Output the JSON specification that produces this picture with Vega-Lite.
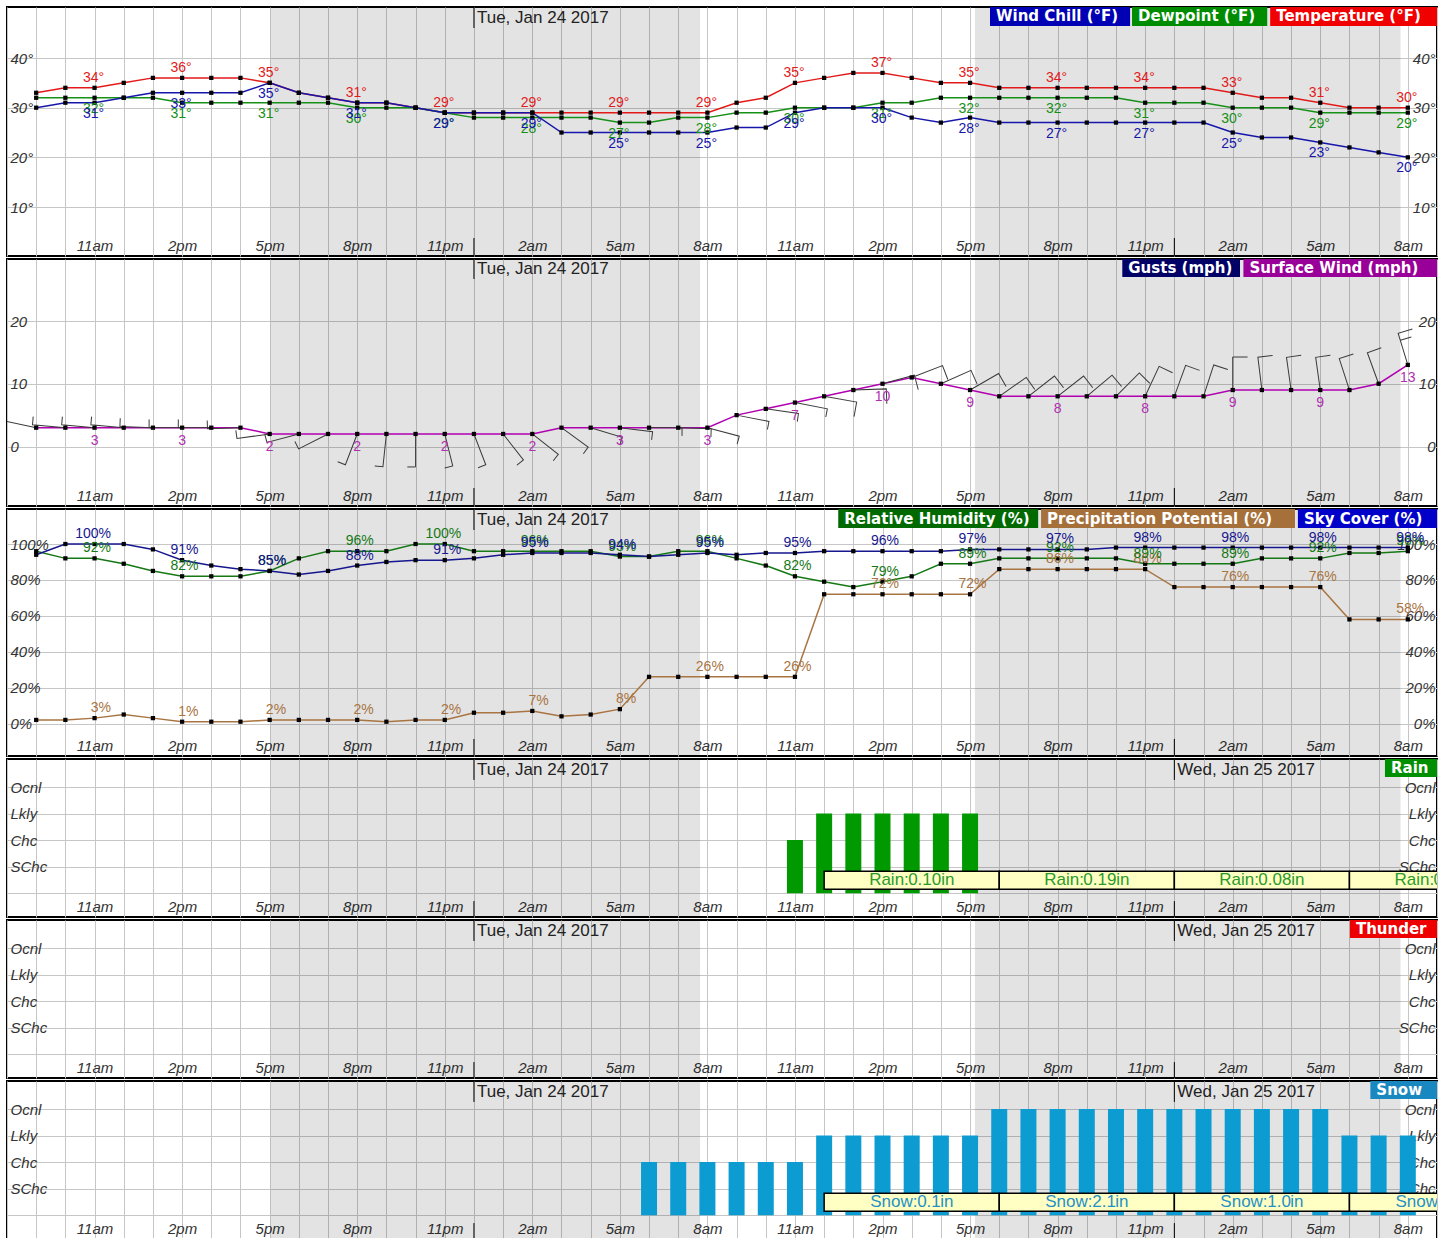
{
  "$schema": "https://vega.github.io/schema/vega-lite/v6.json",
  "background": "white",
  "padding": {"left": 6, "top": 5, "right": 3, "bottom": 0},
  "spacing": -1,
  "resolve": {"scale": {"color": "independent", "fill": "independent", "shape": "independent"}},
  "config": {
    "view": {"stroke": "#000000", "strokeWidth": 2},
    "axis": {"domain": false, "ticks": false, "gridColor": "#c6c6c6", "labelFont": "Liberation Sans", "labelFontStyle": "italic", "labelFontSize": 15, "labelColor": "#333333", "labelOverlap": false, "labelFlush": false},
    "text": {"font": "Liberation Sans"}
  },
  "data": {"values": [
    {"t":"2017-01-23T09:00","temp":33,"dew":32,"chill":30,"wind":3,"dir":282,"barb":"half","rh":96,"pop":2,"sky":94,"rain":0,"snow":0},
    {"t":"2017-01-23T10:00","temp":34,"dew":32,"chill":31,"wind":3,"dir":275,"barb":"half","rh":92,"pop":2,"sky":100,"rain":0,"snow":0},
    {"t":"2017-01-23T11:00","temp":34,"dew":32,"chill":31,"wind":3,"dir":275,"barb":"half","rh":92,"pop":3,"sky":100,"rain":0,"snow":0},
    {"t":"2017-01-23T12:00","temp":35,"dew":32,"chill":32,"wind":3,"dir":275,"barb":"half","rh":89,"pop":5,"sky":100,"rain":0,"snow":0},
    {"t":"2017-01-23T13:00","temp":36,"dew":32,"chill":33,"wind":3,"dir":272,"barb":"half","rh":85,"pop":3,"sky":97,"rain":0,"snow":0},
    {"t":"2017-01-23T14:00","temp":36,"dew":31,"chill":33,"wind":3,"dir":270,"barb":"half","rh":82,"pop":1,"sky":91,"rain":0,"snow":0},
    {"t":"2017-01-23T15:00","temp":36,"dew":31,"chill":33,"wind":3,"dir":270,"barb":"half","rh":82,"pop":1,"sky":88,"rain":0,"snow":0},
    {"t":"2017-01-23T16:00","temp":36,"dew":31,"chill":33,"wind":3,"dir":268,"barb":"half","rh":82,"pop":1,"sky":86,"rain":0,"snow":0},
    {"t":"2017-01-23T17:00","temp":35,"dew":31,"chill":35,"wind":2,"dir":262,"barb":"half","rh":85,"pop":2,"sky":85,"rain":0,"snow":0},
    {"t":"2017-01-23T18:00","temp":33,"dew":31,"chill":33,"wind":2,"dir":255,"barb":"half","rh":92,"pop":2,"sky":83,"rain":0,"snow":0},
    {"t":"2017-01-23T19:00","temp":32,"dew":31,"chill":32,"wind":2,"dir":243,"barb":"half","rh":96,"pop":2,"sky":85,"rain":0,"snow":0},
    {"t":"2017-01-23T20:00","temp":31,"dew":30,"chill":31,"wind":2,"dir":201,"barb":"half","rh":96,"pop":2,"sky":88,"rain":0,"snow":0},
    {"t":"2017-01-23T21:00","temp":31,"dew":30,"chill":31,"wind":2,"dir":186,"barb":"half","rh":96,"pop":1,"sky":90,"rain":0,"snow":0},
    {"t":"2017-01-23T22:00","temp":30,"dew":30,"chill":30,"wind":2,"dir":180,"barb":"half","rh":100,"pop":2,"sky":91,"rain":0,"snow":0},
    {"t":"2017-01-23T23:00","temp":29,"dew":29,"chill":29,"wind":2,"dir":166,"barb":"half","rh":100,"pop":2,"sky":91,"rain":0,"snow":0},
    {"t":"2017-01-24T00:00","temp":29,"dew":28,"chill":29,"wind":2,"dir":159,"barb":"half","rh":96,"pop":6,"sky":92,"rain":0,"snow":0},
    {"t":"2017-01-24T01:00","temp":29,"dew":28,"chill":29,"wind":2,"dir":142,"barb":"half","rh":96,"pop":6,"sky":94,"rain":0,"snow":0},
    {"t":"2017-01-24T02:00","temp":29,"dew":28,"chill":29,"wind":2,"dir":128,"barb":"half","rh":96,"pop":7,"sky":95,"rain":0,"snow":0},
    {"t":"2017-01-24T03:00","temp":29,"dew":28,"chill":25,"wind":3,"dir":126,"barb":"half","rh":96,"pop":4,"sky":95,"rain":0,"snow":0},
    {"t":"2017-01-24T04:00","temp":29,"dew":28,"chill":25,"wind":3,"dir":107,"barb":"half","rh":96,"pop":5,"sky":95,"rain":0,"snow":0},
    {"t":"2017-01-24T05:00","temp":29,"dew":27,"chill":25,"wind":3,"dir":97,"barb":"half","rh":93,"pop":8,"sky":94,"rain":0,"snow":0},
    {"t":"2017-01-24T06:00","temp":29,"dew":27,"chill":25,"wind":3,"dir":90,"barb":"half","rh":93,"pop":26,"sky":93,"rain":0,"snow":2},
    {"t":"2017-01-24T07:00","temp":29,"dew":28,"chill":25,"wind":3,"dir":92,"barb":"half","rh":96,"pop":26,"sky":94,"rain":0,"snow":2},
    {"t":"2017-01-24T08:00","temp":29,"dew":28,"chill":25,"wind":3,"dir":105,"barb":"half","rh":96,"pop":26,"sky":95,"rain":0,"snow":2},
    {"t":"2017-01-24T09:00","temp":31,"dew":29,"chill":26,"wind":5,"dir":101,"barb":"half","rh":92,"pop":26,"sky":94,"rain":0,"snow":2},
    {"t":"2017-01-24T10:00","temp":32,"dew":29,"chill":26,"wind":6,"dir":98,"barb":"half","rh":88,"pop":26,"sky":95,"rain":0,"snow":2},
    {"t":"2017-01-24T11:00","temp":35,"dew":30,"chill":29,"wind":7,"dir":101,"barb":"half","rh":82,"pop":26,"sky":95,"rain":2,"snow":2},
    {"t":"2017-01-24T12:00","temp":36,"dew":30,"chill":30,"wind":8,"dir":100,"barb":"full","rh":79,"pop":72,"sky":96,"rain":3,"snow":3},
    {"t":"2017-01-24T13:00","temp":37,"dew":30,"chill":30,"wind":9,"dir":88,"barb":"full","rh":76,"pop":72,"sky":96,"rain":3,"snow":3},
    {"t":"2017-01-24T14:00","temp":37,"dew":31,"chill":30,"wind":10,"dir":75,"barb":"full","rh":79,"pop":72,"sky":96,"rain":3,"snow":3},
    {"t":"2017-01-24T15:00","temp":36,"dew":31,"chill":28,"wind":11,"dir":69,"barb":"full","rh":82,"pop":72,"sky":96,"rain":3,"snow":3},
    {"t":"2017-01-24T16:00","temp":35,"dew":32,"chill":27,"wind":10,"dir":66,"barb":"full","rh":89,"pop":72,"sky":96,"rain":3,"snow":3},
    {"t":"2017-01-24T17:00","temp":35,"dew":32,"chill":28,"wind":9,"dir":60,"barb":"full","rh":89,"pop":72,"sky":97,"rain":3,"snow":3},
    {"t":"2017-01-24T18:00","temp":34,"dew":32,"chill":27,"wind":8,"dir":55,"barb":"full","rh":92,"pop":86,"sky":97,"rain":0,"snow":4},
    {"t":"2017-01-24T19:00","temp":34,"dew":32,"chill":27,"wind":8,"dir":52,"barb":"full","rh":92,"pop":86,"sky":97,"rain":0,"snow":4},
    {"t":"2017-01-24T20:00","temp":34,"dew":32,"chill":27,"wind":8,"dir":52,"barb":"full","rh":92,"pop":86,"sky":97,"rain":0,"snow":4},
    {"t":"2017-01-24T21:00","temp":34,"dew":32,"chill":27,"wind":8,"dir":50,"barb":"full","rh":92,"pop":86,"sky":97,"rain":0,"snow":4},
    {"t":"2017-01-24T22:00","temp":34,"dew":32,"chill":27,"wind":8,"dir":45,"barb":"full","rh":92,"pop":86,"sky":98,"rain":0,"snow":4},
    {"t":"2017-01-24T23:00","temp":34,"dew":31,"chill":27,"wind":8,"dir":25,"barb":"full","rh":89,"pop":86,"sky":98,"rain":0,"snow":4},
    {"t":"2017-01-25T00:00","temp":34,"dew":31,"chill":27,"wind":8,"dir":20,"barb":"full","rh":89,"pop":76,"sky":98,"rain":0,"snow":4},
    {"t":"2017-01-25T01:00","temp":34,"dew":31,"chill":27,"wind":8,"dir":18,"barb":"full","rh":89,"pop":76,"sky":98,"rain":0,"snow":4},
    {"t":"2017-01-25T02:00","temp":33,"dew":30,"chill":25,"wind":9,"dir":0,"barb":"full","rh":89,"pop":76,"sky":98,"rain":0,"snow":4},
    {"t":"2017-01-25T03:00","temp":32,"dew":30,"chill":24,"wind":9,"dir":353,"barb":"full","rh":92,"pop":76,"sky":98,"rain":0,"snow":4},
    {"t":"2017-01-25T04:00","temp":32,"dew":30,"chill":24,"wind":9,"dir":352,"barb":"full","rh":92,"pop":76,"sky":98,"rain":0,"snow":4},
    {"t":"2017-01-25T05:00","temp":31,"dew":29,"chill":23,"wind":9,"dir":352,"barb":"full","rh":92,"pop":76,"sky":98,"rain":0,"snow":4},
    {"t":"2017-01-25T06:00","temp":30,"dew":29,"chill":22,"wind":9,"dir":342,"barb":"full","rh":95,"pop":58,"sky":98,"rain":0,"snow":3},
    {"t":"2017-01-25T07:00","temp":30,"dew":29,"chill":21,"wind":10,"dir":340,"barb":"full","rh":95,"pop":58,"sky":98,"rain":0,"snow":3},
    {"t":"2017-01-25T08:00","temp":30,"dew":29,"chill":20,"wind":13,"dir":343,"barb":"fullhalf","rh":96,"pop":58,"sky":98,"rain":0,"snow":3}
  ]},
  "vconcat": [
    {
      "width": 1430, "height": 249,
      "encoding": {"x": {"field": "t", "type": "temporal", "title": null, "scale": {"domain": [{"year": 2017, "month": 1, "date": 23, "hours": 8}, {"year": 2017, "month": 1, "date": 25, "hours": 9}], "padding": 0, "nice": false}, "axis": {"tickCount": 49, "grid": true, "labelPadding": -3, "labelBaseline": "bottom", "labelExpr": "(hours(datum.value) % 3 == 2 && datum.index > 0) ? lower(timeFormat(datum.value, '%-I%p')) : ''"}}},
      "layer": [
        {"data": {"values": [{"start":"2017-01-23T17:02","end":"2017-01-24T07:45"},{"start":"2017-01-24T17:10","end":"2017-01-25T07:45"}]}, "mark": {"type": "rect", "color": "#000000", "opacity": 0.11}, "encoding": {"x": {"field": "start", "type": "temporal", "title": null}, "x2": {"field": "end"}}},
        {"transform": [{"fold": ["temp", "dew", "chill"], "as": ["s", "v"]}], "mark": {"type": "line", "strokeWidth": 1.5},
          "encoding": {"y": {"field": "v", "type": "quantitative", "title": null, "scale": {"domain": [0.14, 50.27], "nice": false, "zero": false}, "axis": {"orient": "left", "values": [10, 20, 30, 40], "grid": true, "labelAlign": "left", "labelPadding": -3, "labelExpr": "datum.value + '°'"}},
            "color": {"field": "s", "type": "nominal", "scale": {"domain": ["temp", "dew", "chill"], "range": ["#e21a1a", "#169016", "#1616aa"]}, "legend": null}}},
        {"transform": [{"fold": ["temp", "dew", "chill"], "as": ["s", "v"]}], "mark": {"type": "point", "shape": "square", "filled": true, "color": "#000000", "size": 18, "opacity": 1},
          "encoding": {"y": {"field": "v", "type": "quantitative", "title": null, "axis": {"orient": "right", "values": [10, 20, 30, 40], "grid": false, "labelAlign": "right", "labelPadding": -2, "labelExpr": "datum.value + '°'"}}}},
        {"transform": [{"filter": "hours(datum.t) % 3 == 2"}, {"fold": ["temp", "dew", "chill"], "as": ["s", "v"]}, {"filter": "datum.s == 'temp'"}],
          "mark": {"type": "text", "dy": -10, "dx": 4, "align": "right", "fontSize": 14, "baseline": "middle"},
          "encoding": {"y": {"field": "v", "type": "quantitative", "axis": null}, "text": {"field": "v", "type": "quantitative"}, "color": {"field": "s", "type": "nominal", "legend": null}}},
        {"transform": [{"filter": "hours(datum.t) % 3 == 2"}, {"fold": ["temp", "dew", "chill"], "as": ["s", "v"]}, {"filter": "datum.s == 'temp'"}],
          "mark": {"type": "text", "dy": -10, "dx": 4, "align": "left", "fontSize": 14, "baseline": "middle", "text": "°"},
          "encoding": {"y": {"field": "v", "type": "quantitative", "axis": null}, "color": {"field": "s", "type": "nominal", "legend": null}}},
        {"transform": [{"filter": "hours(datum.t) % 3 == 2"}, {"fold": ["temp", "dew", "chill"], "as": ["s", "v"]}, {"filter": "datum.s != 'temp'"}],
          "mark": {"type": "text", "dy": 11, "dx": 4, "align": "right", "fontSize": 14, "baseline": "middle"},
          "encoding": {"y": {"field": "v", "type": "quantitative", "axis": null}, "text": {"field": "v", "type": "quantitative"}, "color": {"field": "s", "type": "nominal", "legend": null}}},
        {"transform": [{"filter": "hours(datum.t) % 3 == 2"}, {"fold": ["temp", "dew", "chill"], "as": ["s", "v"]}, {"filter": "datum.s != 'temp'"}],
          "mark": {"type": "text", "dy": 11, "dx": 4, "align": "left", "fontSize": 14, "baseline": "middle", "text": "°"},
          "encoding": {"y": {"field": "v", "type": "quantitative", "axis": null}, "color": {"field": "s", "type": "nominal", "legend": null}}},
        {"data": {"values": [{"label":"Wind Chill (°F)","start":"2017-01-24T17:41","end":"2017-01-24T22:29"},{"label":"Dewpoint (°F)","start":"2017-01-24T22:33","end":"2017-01-25T03:11"},{"label":"Temperature (°F)","start":"2017-01-25T03:17","end":"2017-01-25T09:00"}]},
          "layer": [
            {"mark": {"type": "rect"}, "encoding": {"x": {"field": "start", "type": "temporal", "title": null}, "x2": {"field": "end"}, "y": {"datum": 46.45, "axis": null}, "y2": {"datum": 50.27},
              "fill": {"field": "label", "type": "nominal", "scale": {"domain": ["Wind Chill (°F)", "Dewpoint (°F)", "Temperature (°F)"], "range": ["#0000b4", "#008c00", "#f00000"]}, "legend": null}}},
            {"mark": {"type": "text", "align": "left", "baseline": "middle", "dx": 6, "font": "DejaVu Sans", "fontWeight": "bold", "fontSize": 15, "color": "#ffffff"},
              "encoding": {"x": {"field": "start", "type": "temporal", "title": null}, "y": {"datum": 48.36, "axis": null}, "text": {"field": "label"}}}
          ]},
        {"data": {"values": [{"t":"2017-01-24T00:00"},{"t":"2017-01-25T00:00"}]},
          "layer": [
            {"transform": [{"filter": "date(datum.t) == 24"}], "mark": {"type": "text", "align": "left", "baseline": "middle", "dx": 3, "fontSize": 17, "color": "#222222"},
              "encoding": {"y": {"datum": 48.06, "axis": null}, "text": {"field": "t", "type": "temporal", "format": "%a, %b %d %Y"}}},
            {"transform": [{"filter": "date(datum.t) == 24"}], "mark": {"type": "rule", "color": "#000000", "strokeWidth": 1},
              "encoding": {"y": {"datum": 50.27, "axis": null}, "y2": {"datum": 46.04}}},
            {"mark": {"type": "rule", "color": "#000000", "strokeWidth": 1},
              "encoding": {"y": {"datum": 3.76, "axis": null}, "y2": {"datum": 0.14}}}
          ]}
      ],
      "resolve": {"axis": {"y": "independent"}}
    },
    {
      "width": 1430, "height": 247,
      "encoding": {"x": {"field": "t", "type": "temporal", "title": null, "scale": {"domain": [{"year": 2017, "month": 1, "date": 23, "hours": 8}, {"year": 2017, "month": 1, "date": 25, "hours": 9}], "padding": 0, "nice": false}, "axis": {"tickCount": 49, "grid": true, "labelPadding": -3, "labelBaseline": "bottom", "labelExpr": "(hours(datum.value) % 3 == 2 && datum.index > 0) ? lower(timeFormat(datum.value, '%-I%p')) : ''"}}},
      "layer": [
        {"data": {"values": [{"start":"2017-01-23T17:02","end":"2017-01-24T07:45"},{"start":"2017-01-24T17:10","end":"2017-01-25T07:45"}]}, "mark": {"type": "rect", "color": "#000000", "opacity": 0.11}, "encoding": {"x": {"field": "start", "type": "temporal", "title": null}, "x2": {"field": "end"}}},
        {"mark": {"type": "line", "strokeWidth": 1.5, "color": "#b000b0"},
          "encoding": {"y": {"field": "wind", "type": "quantitative", "title": null, "scale": {"domain": [-9.48, 29.88], "nice": false, "zero": false}, "axis": {"orient": "left", "values": [0, 10, 20], "grid": true, "labelAlign": "left", "labelPadding": -3}}}},
        {"mark": {"type": "point", "filled": false, "color": "#3a3a3a", "strokeWidth": 1, "size": 4356, "opacity": 1, "clip": true},
          "encoding": {"y": {"field": "wind", "type": "quantitative", "axis": null},
            "shape": {"field": "barb", "type": "nominal", "scale": {"domain": ["half", "full", "fullhalf"], "range": ["M0,0L0,-1L0.25,-1", "M0,0L0,-1L0.45,-1", "M0,0L0,-1L0.45,-1M0,-0.78L0.35,-0.78"]}, "legend": null},
            "angle": {"field": "dir", "type": "quantitative", "scale": null}}},
        {"mark": {"type": "point", "shape": "square", "filled": true, "color": "#000000", "size": 18, "opacity": 1},
          "encoding": {"y": {"field": "wind", "type": "quantitative", "title": null, "axis": {"orient": "right", "values": [0, 10, 20], "grid": false, "labelAlign": "right", "labelPadding": -2}}}},
        {"transform": [{"filter": "hours(datum.t) % 3 == 2"}],
          "mark": {"type": "text", "dy": 13, "fontSize": 14, "baseline": "middle", "color": "#b030b0"},
          "encoding": {"y": {"field": "wind", "type": "quantitative", "axis": null}, "text": {"field": "wind", "type": "quantitative"}}},
        {"data": {"values": [{"label":"Gusts (mph)","start":"2017-01-24T22:13","end":"2017-01-25T02:15"},{"label":"Surface Wind (mph)","start":"2017-01-25T02:22","end":"2017-01-25T09:00"}]},
          "layer": [
            {"mark": {"type": "rect"}, "encoding": {"x": {"field": "start", "type": "temporal", "title": null}, "x2": {"field": "end"}, "y": {"datum": 27.0, "axis": null}, "y2": {"datum": 29.88},
              "fill": {"field": "label", "type": "nominal", "scale": {"domain": ["Gusts (mph)", "Surface Wind (mph)"], "range": ["#000066", "#990099"]}, "legend": null}}},
            {"mark": {"type": "text", "align": "left", "baseline": "middle", "dx": 6, "font": "DejaVu Sans", "fontWeight": "bold", "fontSize": 15, "color": "#ffffff"},
              "encoding": {"x": {"field": "start", "type": "temporal", "title": null}, "y": {"datum": 28.45, "axis": null}, "text": {"field": "label"}}}
          ]},
        {"data": {"values": [{"t":"2017-01-24T00:00"},{"t":"2017-01-25T00:00"}]},
          "layer": [
            {"transform": [{"filter": "date(datum.t) == 24"}], "mark": {"type": "text", "align": "left", "baseline": "middle", "dx": 3, "fontSize": 17, "color": "#222222"},
              "encoding": {"y": {"datum": 28.29, "axis": null}, "text": {"field": "t", "type": "temporal", "format": "%a, %b %d %Y"}}},
            {"transform": [{"filter": "date(datum.t) == 24"}], "mark": {"type": "rule", "color": "#000000", "strokeWidth": 1},
              "encoding": {"y": {"datum": 29.88, "axis": null}, "y2": {"datum": 26.7}}},
            {"mark": {"type": "rule", "color": "#000000", "strokeWidth": 1},
              "encoding": {"y": {"datum": -6.61, "axis": null}, "y2": {"datum": -9.48}}}
          ]}
      ],
      "resolve": {"axis": {"y": "independent"}}
    },
    {
      "width": 1430, "height": 247,
      "encoding": {"x": {"field": "t", "type": "temporal", "title": null, "scale": {"domain": [{"year": 2017, "month": 1, "date": 23, "hours": 8}, {"year": 2017, "month": 1, "date": 25, "hours": 9}], "padding": 0, "nice": false}, "axis": {"tickCount": 49, "grid": true, "labelPadding": -3, "labelBaseline": "bottom", "labelExpr": "(hours(datum.value) % 3 == 2 && datum.index > 0) ? lower(timeFormat(datum.value, '%-I%p')) : ''"}}},
      "layer": [
        {"data": {"values": [{"start":"2017-01-23T17:02","end":"2017-01-24T07:45"},{"start":"2017-01-24T17:10","end":"2017-01-25T07:45"}]}, "mark": {"type": "rect", "color": "#000000", "opacity": 0.11}, "encoding": {"x": {"field": "start", "type": "temporal", "title": null}, "x2": {"field": "end"}}},
        {"transform": [{"fold": ["pop", "rh", "sky"], "as": ["s", "v"]}], "mark": {"type": "line", "strokeWidth": 1.5},
          "encoding": {"y": {"field": "v", "type": "quantitative", "title": null, "scale": {"domain": [-18.1, 119.5], "nice": false, "zero": false}, "axis": {"orient": "left", "values": [0, 20, 40, 60, 80, 100], "grid": true, "labelAlign": "left", "labelPadding": -3, "labelExpr": "datum.value + '%'"}},
            "color": {"field": "s", "type": "nominal", "scale": {"domain": ["pop", "rh", "sky"], "range": ["#a87442", "#157815", "#16168e"]}, "legend": null}}},
        {"transform": [{"fold": ["pop", "rh", "sky"], "as": ["s", "v"]}], "mark": {"type": "point", "shape": "square", "filled": true, "color": "#000000", "size": 18, "opacity": 1},
          "encoding": {"y": {"field": "v", "type": "quantitative", "title": null, "axis": {"orient": "right", "values": [0, 20, 40, 60, 80, 100], "grid": false, "labelAlign": "right", "labelPadding": -2, "labelExpr": "datum.value + '%'"}}}},
        {"transform": [{"filter": "hours(datum.t) % 3 == 2"}, {"fold": ["pop", "rh", "sky"], "as": ["s", "v"]}],
          "mark": {"type": "text", "dy": -10, "dx": 4, "align": "right", "fontSize": 14, "baseline": "middle"},
          "encoding": {"y": {"field": "v", "type": "quantitative", "axis": null}, "text": {"field": "v", "type": "quantitative"}, "color": {"field": "s", "type": "nominal", "legend": null}}},
        {"transform": [{"filter": "hours(datum.t) % 3 == 2"}, {"fold": ["pop", "rh", "sky"], "as": ["s", "v"]}],
          "mark": {"type": "text", "dy": -10, "dx": 4, "align": "left", "fontSize": 14, "baseline": "middle", "text": "%"},
          "encoding": {"y": {"field": "v", "type": "quantitative", "axis": null}, "color": {"field": "s", "type": "nominal", "legend": null}}},
        {"data": {"values": [{"label":"Relative Humidity (%)","start":"2017-01-24T12:29","end":"2017-01-24T19:20"},{"label":"Precipitation Potential (%)","start":"2017-01-24T19:26","end":"2017-01-25T04:08"},{"label":"Sky Cover (%)","start":"2017-01-25T04:14","end":"2017-01-25T09:00"}]},
          "layer": [
            {"mark": {"type": "rect"}, "encoding": {"x": {"field": "start", "type": "temporal", "title": null}, "x2": {"field": "end"}, "y": {"datum": 108.9, "axis": null}, "y2": {"datum": 119.5},
              "fill": {"field": "label", "type": "nominal", "scale": {"domain": ["Relative Humidity (%)", "Precipitation Potential (%)", "Sky Cover (%)"], "range": ["#006a00", "#a6703a", "#0000c8"]}, "legend": null}}},
            {"mark": {"type": "text", "align": "left", "baseline": "middle", "dx": 6, "font": "DejaVu Sans", "fontWeight": "bold", "fontSize": 15, "color": "#ffffff"},
              "encoding": {"x": {"field": "start", "type": "temporal", "title": null}, "y": {"datum": 114.2, "axis": null}, "text": {"field": "label"}}}
          ]},
        {"data": {"values": [{"t":"2017-01-24T00:00"},{"t":"2017-01-25T00:00"}]},
          "layer": [
            {"transform": [{"filter": "date(datum.t) == 24"}], "mark": {"type": "text", "align": "left", "baseline": "middle", "dx": 3, "fontSize": 17, "color": "#222222"},
              "encoding": {"y": {"datum": 113.4, "axis": null}, "text": {"field": "t", "type": "temporal", "format": "%a, %b %d %Y"}}},
            {"transform": [{"filter": "date(datum.t) == 24"}], "mark": {"type": "rule", "color": "#000000", "strokeWidth": 1},
              "encoding": {"y": {"datum": 119.5, "axis": null}, "y2": {"datum": 107.8}}},
            {"mark": {"type": "rule", "color": "#000000", "strokeWidth": 1},
              "encoding": {"y": {"datum": -8.6, "axis": null}, "y2": {"datum": -18.1}}}
          ]}
      ],
      "resolve": {"axis": {"y": "independent"}}
    },
    {
      "width": 1430, "height": 158,
      "encoding": {"x": {"field": "t", "type": "temporal", "title": null, "scale": {"domain": [{"year": 2017, "month": 1, "date": 23, "hours": 8}, {"year": 2017, "month": 1, "date": 25, "hours": 9}], "padding": 0, "nice": false}, "axis": {"tickCount": 49, "grid": true, "labelPadding": -3, "labelBaseline": "bottom", "labelExpr": "(hours(datum.value) % 3 == 2 && datum.index > 0) ? lower(timeFormat(datum.value, '%-I%p')) : ''"}}},
      "layer": [
        {"data": {"values": [{"start":"2017-01-23T17:02","end":"2017-01-24T07:45"},{"start":"2017-01-24T17:10","end":"2017-01-25T07:45"}]}, "mark": {"type": "rect", "color": "#000000", "opacity": 0.11}, "encoding": {"x": {"field": "start", "type": "temporal", "title": null}, "x2": {"field": "end"}}},
        {"transform": [{"filter": "datum.rain > 0"}], "mark": {"type": "bar", "color": "#009a00", "width": 16},
          "encoding": {"y": {"field": "rain", "type": "quantitative", "title": null, "scale": {"domain": [-0.9, 5.06], "nice": false, "zero": false}, "axis": {"orient": "left", "values": [0, 1, 2, 3, 4], "grid": true, "labelAlign": "left", "labelPadding": -3, "labelExpr": "datum.value == 1 ? 'SChc' : datum.value == 2 ? 'Chc' : datum.value == 3 ? 'Lkly' : datum.value == 4 ? 'Ocnl' : ''"}}, "y2": {"datum": 0}}},
        {"transform": [{"filter": "datum.rain > 0"}], "mark": {"type": "bar", "opacity": 0, "width": 16},
          "encoding": {"y": {"field": "rain", "type": "quantitative", "title": null, "axis": {"orient": "right", "values": [1, 2, 3, 4], "grid": false, "labelAlign": "right", "labelPadding": -2, "labelExpr": "datum.value == 1 ? 'SChc' : datum.value == 2 ? 'Chc' : datum.value == 3 ? 'Lkly' : 'Ocnl'"}}, "y2": {"datum": 0}}},
        {"data": {"values": [{"start":"2017-01-24T12:00","end":"2017-01-24T18:00","amt":0.10},{"start":"2017-01-24T18:00","end":"2017-01-25T00:00","amt":0.19},{"start":"2017-01-25T00:00","end":"2017-01-25T06:00","amt":0.08},{"start":"2017-01-25T06:00","end":"2017-01-25T12:00","amt":0.02}]},
          "layer": [
            {"mark": {"type": "rect", "fill": "#ffffc4", "stroke": "#000000", "strokeWidth": 1.5, "clip": true},
              "encoding": {"x": {"field": "start", "type": "temporal", "title": null}, "x2": {"field": "end"}, "y": {"datum": 0.15, "axis": null}, "y2": {"datum": 0.83}}},
            {"mark": {"type": "text", "align": "left", "baseline": "middle", "dx": 45, "fontSize": 17, "color": "#2a9a2a", "clip": true, "text": "Rain:"},
              "encoding": {"x": {"field": "start", "type": "temporal", "title": null}, "y": {"datum": 0.49, "axis": null}}},
            {"mark": {"type": "text", "align": "left", "baseline": "middle", "dx": 84, "fontSize": 17, "color": "#2a9a2a", "clip": true},
              "encoding": {"x": {"field": "start", "type": "temporal", "title": null}, "y": {"datum": 0.49, "axis": null}, "text": {"field": "amt", "type": "quantitative", "format": ".2f"}}},
            {"mark": {"type": "text", "align": "left", "baseline": "middle", "dx": 117, "fontSize": 17, "color": "#2a9a2a", "clip": true, "text": "in"},
              "encoding": {"x": {"field": "start", "type": "temporal", "title": null}, "y": {"datum": 0.49, "axis": null}}}
          ]},
        {"data": {"values": [{"label":"Rain","start":"2017-01-25T07:13","end":"2017-01-25T09:00"}]},
          "layer": [
            {"mark": {"type": "rect", "color": "#008f00"}, "encoding": {"x": {"field": "start", "type": "temporal", "title": null}, "x2": {"field": "end"}, "y": {"datum": 4.38, "axis": null}, "y2": {"datum": 5.06}}},
            {"mark": {"type": "text", "align": "left", "baseline": "middle", "dx": 6, "font": "DejaVu Sans", "fontWeight": "bold", "fontSize": 15, "color": "#ffffff"},
              "encoding": {"x": {"field": "start", "type": "temporal", "title": null}, "y": {"datum": 4.72, "axis": null}, "text": {"field": "label"}}}
          ]},
        {"data": {"values": [{"t":"2017-01-24T00:00"},{"t":"2017-01-25T00:00"}]},
          "layer": [
            {"mark": {"type": "text", "align": "left", "baseline": "middle", "dx": 3, "fontSize": 17, "color": "#222222"},
              "encoding": {"y": {"datum": 4.645, "axis": null}, "text": {"field": "t", "type": "temporal", "format": "%a, %b %d %Y"}}},
            {"mark": {"type": "rule", "color": "#000000", "strokeWidth": 1},
              "encoding": {"y": {"datum": 5.06, "axis": null}, "y2": {"datum": 4.27}}},
            {"mark": {"type": "rule", "color": "#000000", "strokeWidth": 1},
              "encoding": {"y": {"datum": -0.3, "axis": null}, "y2": {"datum": -0.9}}}
          ]}
      ],
      "resolve": {"axis": {"y": "independent"}}
    },
    {
      "width": 1430, "height": 158,
      "encoding": {"x": {"field": "t", "type": "temporal", "title": null, "scale": {"domain": [{"year": 2017, "month": 1, "date": 23, "hours": 8}, {"year": 2017, "month": 1, "date": 25, "hours": 9}], "padding": 0, "nice": false}, "axis": {"tickCount": 49, "grid": true, "labelPadding": -3, "labelBaseline": "bottom", "labelExpr": "(hours(datum.value) % 3 == 2 && datum.index > 0) ? lower(timeFormat(datum.value, '%-I%p')) : ''"}}},
      "layer": [
        {"data": {"values": [{"start":"2017-01-23T17:02","end":"2017-01-24T07:45"},{"start":"2017-01-24T17:10","end":"2017-01-25T07:45"}]}, "mark": {"type": "rect", "color": "#000000", "opacity": 0.11}, "encoding": {"x": {"field": "start", "type": "temporal", "title": null}, "x2": {"field": "end"}}},
        {"transform": [{"filter": "datum.rain < 0"}], "mark": {"type": "bar", "color": "#dd0000", "width": 16},
          "encoding": {"y": {"field": "rain", "type": "quantitative", "title": null, "scale": {"domain": [-0.9, 5.06], "nice": false, "zero": false}, "axis": {"orient": "left", "values": [0, 1, 2, 3, 4], "grid": true, "labelAlign": "left", "labelPadding": -3, "labelExpr": "datum.value == 1 ? 'SChc' : datum.value == 2 ? 'Chc' : datum.value == 3 ? 'Lkly' : datum.value == 4 ? 'Ocnl' : ''"}}, "y2": {"datum": 0}}},
        {"transform": [{"filter": "datum.rain < 0"}], "mark": {"type": "bar", "opacity": 0, "width": 16},
          "encoding": {"y": {"field": "rain", "type": "quantitative", "title": null, "axis": {"orient": "right", "values": [1, 2, 3, 4], "grid": false, "labelAlign": "right", "labelPadding": -2, "labelExpr": "datum.value == 1 ? 'SChc' : datum.value == 2 ? 'Chc' : datum.value == 3 ? 'Lkly' : 'Ocnl'"}}, "y2": {"datum": 0}}},
        {"data": {"values": [{"label":"Thunder","start":"2017-01-25T06:01","end":"2017-01-25T09:00"}]},
          "layer": [
            {"mark": {"type": "rect", "color": "#ee0000"}, "encoding": {"x": {"field": "start", "type": "temporal", "title": null}, "x2": {"field": "end"}, "y": {"datum": 4.38, "axis": null}, "y2": {"datum": 5.06}}},
            {"mark": {"type": "text", "align": "left", "baseline": "middle", "dx": 6, "font": "DejaVu Sans", "fontWeight": "bold", "fontSize": 15, "color": "#ffffff"},
              "encoding": {"x": {"field": "start", "type": "temporal", "title": null}, "y": {"datum": 4.72, "axis": null}, "text": {"field": "label"}}}
          ]},
        {"data": {"values": [{"t":"2017-01-24T00:00"},{"t":"2017-01-25T00:00"}]},
          "layer": [
            {"mark": {"type": "text", "align": "left", "baseline": "middle", "dx": 3, "fontSize": 17, "color": "#222222"},
              "encoding": {"y": {"datum": 4.645, "axis": null}, "text": {"field": "t", "type": "temporal", "format": "%a, %b %d %Y"}}},
            {"mark": {"type": "rule", "color": "#000000", "strokeWidth": 1},
              "encoding": {"y": {"datum": 5.06, "axis": null}, "y2": {"datum": 4.27}}},
            {"mark": {"type": "rule", "color": "#000000", "strokeWidth": 1},
              "encoding": {"y": {"datum": -0.3, "axis": null}, "y2": {"datum": -0.9}}}
          ]}
      ],
      "resolve": {"axis": {"y": "independent"}}
    },
    {
      "width": 1430, "height": 158,
      "encoding": {"x": {"field": "t", "type": "temporal", "title": null, "scale": {"domain": [{"year": 2017, "month": 1, "date": 23, "hours": 8}, {"year": 2017, "month": 1, "date": 25, "hours": 9}], "padding": 0, "nice": false}, "axis": {"tickCount": 49, "grid": true, "labelPadding": -3, "labelBaseline": "bottom", "labelExpr": "(hours(datum.value) % 3 == 2 && datum.index > 0) ? lower(timeFormat(datum.value, '%-I%p')) : ''"}}},
      "layer": [
        {"data": {"values": [{"start":"2017-01-23T17:02","end":"2017-01-24T07:45"},{"start":"2017-01-24T17:10","end":"2017-01-25T07:45"}]}, "mark": {"type": "rect", "color": "#000000", "opacity": 0.11}, "encoding": {"x": {"field": "start", "type": "temporal", "title": null}, "x2": {"field": "end"}}},
        {"transform": [{"filter": "datum.snow > 0"}], "mark": {"type": "bar", "opacity": 0, "width": 16},
          "encoding": {"y": {"field": "snow", "type": "quantitative", "title": null, "scale": {"domain": [-0.9, 5.06], "nice": false, "zero": false}, "axis": {"orient": "right", "values": [1, 2, 3, 4], "grid": false, "labelAlign": "right", "labelPadding": -2, "labelExpr": "datum.value == 1 ? 'SChc' : datum.value == 2 ? 'Chc' : datum.value == 3 ? 'Lkly' : 'Ocnl'"}}, "y2": {"datum": 0}}},
        {"transform": [{"filter": "datum.snow > 0"}], "mark": {"type": "bar", "color": "#0c9cd2", "width": 16},
          "encoding": {"y": {"field": "snow", "type": "quantitative", "title": null, "axis": {"orient": "left", "values": [0, 1, 2, 3, 4], "grid": true, "labelAlign": "left", "labelPadding": -3, "labelExpr": "datum.value == 1 ? 'SChc' : datum.value == 2 ? 'Chc' : datum.value == 3 ? 'Lkly' : datum.value == 4 ? 'Ocnl' : ''"}}, "y2": {"datum": 0}}},
        {"data": {"values": [{"start":"2017-01-24T12:00","end":"2017-01-24T18:00","amt":0.1},{"start":"2017-01-24T18:00","end":"2017-01-25T00:00","amt":2.1},{"start":"2017-01-25T00:00","end":"2017-01-25T06:00","amt":1.0},{"start":"2017-01-25T06:00","end":"2017-01-25T12:00","amt":0.4}]},
          "layer": [
            {"mark": {"type": "rect", "fill": "#ffffc4", "stroke": "#000000", "strokeWidth": 1.5, "clip": true},
              "encoding": {"x": {"field": "start", "type": "temporal", "title": null}, "x2": {"field": "end"}, "y": {"datum": 0.15, "axis": null}, "y2": {"datum": 0.83}}},
            {"mark": {"type": "text", "align": "left", "baseline": "middle", "dx": 46, "fontSize": 17, "color": "#2590c5", "clip": true, "text": "Snow:"},
              "encoding": {"x": {"field": "start", "type": "temporal", "title": null}, "y": {"datum": 0.49, "axis": null}}},
            {"mark": {"type": "text", "align": "left", "baseline": "middle", "dx": 93, "fontSize": 17, "color": "#2590c5", "clip": true},
              "encoding": {"x": {"field": "start", "type": "temporal", "title": null}, "y": {"datum": 0.49, "axis": null}, "text": {"field": "amt", "type": "quantitative", "format": ".1f"}}},
            {"mark": {"type": "text", "align": "left", "baseline": "middle", "dx": 116, "fontSize": 17, "color": "#2590c5", "clip": true, "text": "in"},
              "encoding": {"x": {"field": "start", "type": "temporal", "title": null}, "y": {"datum": 0.49, "axis": null}}}
          ]},
        {"data": {"values": [{"label":"Snow","start":"2017-01-25T06:43","end":"2017-01-25T09:00"}]},
          "layer": [
            {"mark": {"type": "rect", "color": "#1a88c0"}, "encoding": {"x": {"field": "start", "type": "temporal", "title": null}, "x2": {"field": "end"}, "y": {"datum": 4.38, "axis": null}, "y2": {"datum": 5.06}}},
            {"mark": {"type": "text", "align": "left", "baseline": "middle", "dx": 6, "font": "DejaVu Sans", "fontWeight": "bold", "fontSize": 15, "color": "#ffffff"},
              "encoding": {"x": {"field": "start", "type": "temporal", "title": null}, "y": {"datum": 4.72, "axis": null}, "text": {"field": "label"}}}
          ]},
        {"data": {"values": [{"t":"2017-01-24T00:00"},{"t":"2017-01-25T00:00"}]},
          "layer": [
            {"mark": {"type": "text", "align": "left", "baseline": "middle", "dx": 3, "fontSize": 17, "color": "#222222"},
              "encoding": {"y": {"datum": 4.645, "axis": null}, "text": {"field": "t", "type": "temporal", "format": "%a, %b %d %Y"}}},
            {"mark": {"type": "rule", "color": "#000000", "strokeWidth": 1},
              "encoding": {"y": {"datum": 5.06, "axis": null}, "y2": {"datum": 4.27}}},
            {"mark": {"type": "rule", "color": "#000000", "strokeWidth": 1},
              "encoding": {"y": {"datum": -0.3, "axis": null}, "y2": {"datum": -0.9}}}
          ]}
      ],
      "resolve": {"axis": {"y": "independent"}}
    }
  ]
}
